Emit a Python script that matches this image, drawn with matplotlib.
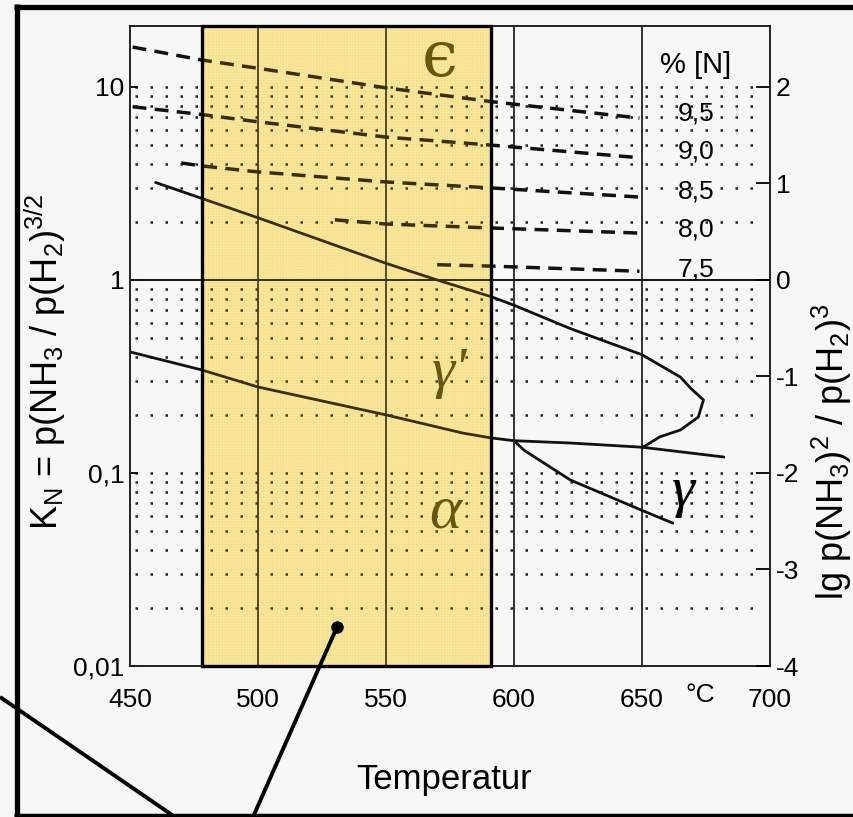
import numpy as np
import matplotlib
matplotlib.use("Agg")
import matplotlib.pyplot as plt
from matplotlib.lines import Line2D
from matplotlib.patches import Rectangle

plt.rcParams['font.family'] = ['Liberation Sans', 'DejaVu Sans']
plt.rcParams['mathtext.fontset'] = 'custom'
plt.rcParams['mathtext.rm'] = 'Liberation Sans'
plt.rcParams['mathtext.it'] = 'Liberation Sans'

# ---------------- data ----------------
x_ticks = [450, 500, 550, 600, 650, 700]
x_tick_labels = ['450', '500', '550', '600', '650', '700']
y_ticks = [0.01, 0.1, 1, 10]
y_tick_labels = ['0,01', '0,1', '1', '10']
y2_ticks = [-4, -3, -2, -1, 0, 1, 2]
y2_tick_labels = ['-4', '-3', '-2', '-1', '0', '1', '2']
vgrid_T = [500, 550, 600, 650]

# epsilon / gamma' boundary incl. nose
T_eps_gp = [460, 500, 550, 570, 591, 600, 622, 650, 665, 669, 674, 672, 665, 657, 650]
K_eps_gp = [3.2, 2.1, 1.22, 1.0, 0.82, 0.74, 0.56, 0.41, 0.314, 0.275, 0.239, 0.195, 0.167, 0.154, 0.135]
# gamma' / alpha boundary
T_gp_a = [450, 478, 500, 550, 580, 591, 600, 622, 650, 682]
K_gp_a = [0.424, 0.342, 0.279, 0.200, 0.161, 0.152, 0.147, 0.143, 0.136, 0.121]
# alpha / gamma boundary
T_a_g = [600, 604, 622, 650, 662]
K_a_g = [0.147, 0.131, 0.092, 0.064, 0.055]

# iso-nitrogen lines in epsilon
N_labels = ['9,5', '9,0', '8,5', '8,0', '7,5']
T_95 = [451, 478, 500, 550, 591, 649]
K_95 = [16.1, 13.8, 12.5, 9.9, 8.4, 6.9]
T_90 = [451, 478, 500, 550, 591, 649]
K_90 = [7.9, 7.2, 6.6, 5.5, 5.0, 4.3]
T_85 = [470, 478, 500, 550, 591, 649]
K_85 = [4.04, 3.9, 3.63, 3.22, 3.0, 2.69]
T_80 = [530, 550, 591, 649]
K_80 = [2.05, 1.95, 1.86, 1.75]
T_75 = [570, 591, 649]
K_75 = [1.20, 1.18, 1.11]
N_label_K = [7.33, 4.61, 2.89, 1.82, 1.13]

# highlighted temperature window
T_win = [478, 591]

# ---------------- figure ----------------
W, H = 854, 817
BG = '#f7f7f5'
fig = plt.figure(figsize=(W / 100, H / 100), dpi=100)
fig.patch.set_facecolor(BG)

ax_l, ax_r, ax_t, ax_b = 130, 770, 26, 666
ax = fig.add_axes([ax_l / W, 1 - ax_b / H, (ax_r - ax_l) / W, (ax_b - ax_t) / H])
ax.set_facecolor(BG)
ax.set_yscale('log')
ymin, ymax = 0.01, 20.7
ax.set_xlim(450, 700)
ax.set_ylim(ymin, ymax)

win_xy = (T_win[0], ymin)
win_w, win_h = T_win[1] - T_win[0], ymax - ymin
# yellow base under everything
ax.add_patch(Rectangle(win_xy, win_w, win_h, facecolor='#f8e290', edgecolor='none', zorder=0.5))
ax.add_patch(Rectangle(win_xy, win_w, win_h, facecolor='none', edgecolor=(1, 1, 1, 0.45),
                       lw=0, hatch='++++++', zorder=0.6))

# dotted horizontal grid at log minor positions
grid_K = [m * d for d in (0.01, 0.1, 1) for m in range(2, 10)] + [0.1, 10]
ax.hlines(grid_K, 452, 697, colors='#222222', linestyles=(0, (1, 5)), lw=1.8, zorder=1)
ax.axhline(1, color='#111111', lw=1.4, zorder=2)
for t in vgrid_T:
    ax.axvline(t, color='#111111', lw=1.2, zorder=2)

# phase boundaries
for T, K in [(T_eps_gp, K_eps_gp), (T_gp_a, K_gp_a), (T_a_g, K_a_g)]:
    ax.plot(T, K, color='#111111', lw=2.0, zorder=3, solid_capstyle='round',
            solid_joinstyle='round')
for T, K in [(T_95, K_95), (T_90, K_90), (T_85, K_85), (T_80, K_80), (T_75, K_75)]:
    ax.plot(T, K, color='#111111', lw=2.5, ls=(0, (4, 2.4)), zorder=3)

# labels
ax.text(671, 13.0, '% [N]', fontsize=21, ha='center', va='center', zorder=4)
for lab, k in zip(N_labels, N_label_K):
    ax.text(671, k, lab, fontsize=19, ha='center', va='center', zorder=4)

olive = '#4a3f12'
ax.text(571, 14.1, 'ϵ', fontsize=46, family=['DejaVu Serif'], color=olive,
        ha='center', va='center', zorder=4)
ax.text(575, 0.33, "γ'", fontsize=42, family=['Liberation Serif'], style='italic',
        color=olive, ha='center', va='center', zorder=4)
ax.text(573, 0.062, 'α', fontsize=44, family=['Liberation Serif'], style='italic',
        color=olive, ha='center', va='center', zorder=4)
ax.text(666, 0.080, 'γ', fontsize=42, family=['Liberation Serif'], style='italic',
        ha='center', va='center', zorder=4)

# light yellow tint on top, plus black frame of the window
ax.add_patch(Rectangle(win_xy, win_w, win_h, facecolor=(0.93, 0.75, 0.0, 0.18),
                       edgecolor='none', zorder=5))
ax.add_patch(Rectangle(win_xy, win_w, win_h, facecolor='none', edgecolor='black',
                       lw=2.4, zorder=6, clip_on=False))

# axes styling
for s in ax.spines.values():
    s.set_linewidth(1.4)
    s.set_color('#222222')
ax.set_xticks(x_ticks)
ax.set_xticklabels(x_tick_labels, fontsize=19)
ax.tick_params(axis='x', length=0, pad=16)
ax.set_yticks(y_ticks)
ax.set_yticklabels(y_tick_labels, fontsize=19)
ax.yaxis.set_minor_locator(matplotlib.ticker.NullLocator())
ax.tick_params(axis='y', direction='in', length=6, width=1.3, pad=4)

ax2 = ax.twinx()
ax2.set_ylim(2 * np.log10(ymin), 2 * np.log10(ymax))
ax2.set_yticks(y2_ticks)
ax2.set_yticklabels(y2_tick_labels, fontsize=19)
ax2.tick_params(axis='y', direction='in', length=10, width=1.3, pad=4)
for s in ax2.spines.values():
    s.set_visible(False)

fig.text(700 / W, 1 - 695 / H, '°C', fontsize=19, ha='center', va='center')
fig.text(444 / W, 1 - 780 / H, 'Temperatur', fontsize=25, ha='center', va='center')
fig.text(45 / W, 1 - 362 / H, r'K$_{\rm N}$ = p(NH$_3$ / p(H$_2$)$^{3/2}$',
         fontsize=26, rotation=90, ha='center', va='center')
fig.text(832 / W, 1 - 452 / H, r'lg p(NH$_3$)$^2$ / p(H$_2$)$^3$',
         fontsize=26, rotation=90, ha='center', va='center')

# outer frame and pointer lines (figure pixels)
def fl(xs, ys, **kw):
    fig.add_artist(Line2D([x / W for x in xs], [1 - y / H for y in ys],
                          transform=fig.transFigure, solid_capstyle='butt', **kw))

fl([16.5, 16.5], [4, 817], color='black', lw=3.8)
fl([14, 854], [6.5, 6.5], color='black', lw=3.8)
fl([14, 854], [815, 815], color='black', lw=2.5)
fl([0, 175], [697, 817], color='black', lw=2.8)
fl([337, 253], [627, 817], color='black', lw=2.8)
fl([337], [627], color='black', marker='o', ms=8, lw=0)

fig.savefig('out.png', dpi=100, facecolor=fig.get_facecolor())
